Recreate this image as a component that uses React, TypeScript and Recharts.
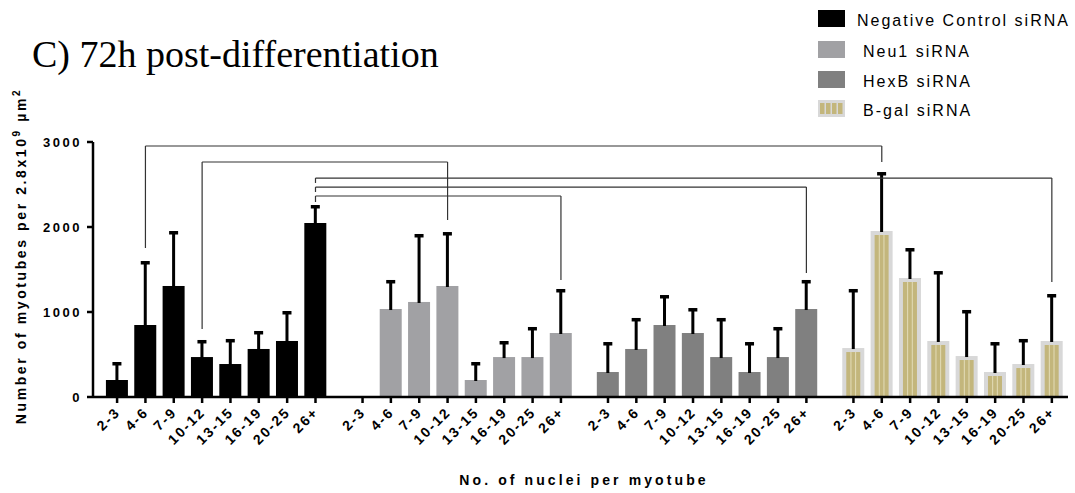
import React from 'react';
import { BarChart, Bar, XAxis, YAxis, ReferenceLine } from 'recharts';

// size bins (nuclei per myotube) and treatment groups
const sizeBins = ['2-3', '4-6', '7-9', '10-12', '13-15', '16-19', '20-25', '26+'];
const groupNames = ['Negative Control siRNA', 'Neu1 siRNA', 'HexB siRNA', 'B-gal siRNA'];

// mean myotube counts per bin
const negControlMean = [200, 847, 1306, 470, 388, 565, 659, 2047];
const neu1Mean = [0, 1035, 1118, 1306, 200, 470, 470, 753];
const hexBMean = [294, 565, 847, 753, 470, 294, 470, 1035];
const bGalMean = [576, 1953, 1400, 659, 482, 294, 388, 659];

// upper error (SD)
const negControlSd = [200, 741, 635, 189, 283, 200, 341, 200];
const neu1Sd = [0, 330, 788, 623, 200, 177, 342, 506];
const hexBSd = [341, 353, 341, 282, 448, 341, 342, 330];
const bGalSd = [683, 682, 341, 811, 530, 341, 283, 541];

const yTicks = [0, 1000, 2000, 3000];

// significance brackets: [group, bin] -> [group, bin], bar height, leg ends
const bracketFrom = [[0, 1], [0, 3], [0, 7], [0, 7], [0, 7]];
const bracketTo = [[3, 1], [1, 3], [3, 7], [2, 7], [1, 7]];
const bracketLevel = [2953, 2765, 2576, 2470, 2365];
const bracketFromEnd = [1753, 800, 2518, 2412, 2294];
const bracketToEnd = [2765, 2082, 1353, 1459, 1376];

const GROUP_STRIDE = 8.66;
const means = [negControlMean, neu1Mean, hexBMean, bGalMean];
const sds = [negControlSd, neu1Sd, hexBSd, bGalSd];
const fills = ['#000000', '#a1a1a4', '#808080', '#c3b67c'];

const pos = (g: number, b: number) => g * GROUP_STRIDE + b;

const tableData = groupNames.flatMap((_, gi) =>
    sizeBins.map((bin, bi) => ({
        pos: pos(gi, bi),
        bin,
        group: gi,
        value: means[gi][bi],
        sd: sds[gi][bi],
    }))
);

const xTicks = tableData.map(d => d.pos);
const labelAt = (v: number) => {
    const hit = tableData.find(d => Math.abs(d.pos - v) < 0.01);
    return hit ? hit.bin : '';
};

const axisFont = '"Liberation Sans", Arial, sans-serif';

const BarShape = (props: any) => {
    const { x, y, width, height, payload } = props;
    if (!payload || payload.value <= 0) return null;
    const perUnit = height / payload.value;
    const errTop = y - payload.sd * perUnit;
    const cx = x + width / 2;
    let body;
    if (payload.group === 3) {
        const inset = 4;
        const iw = width - inset * 2;
        body = (
            <g>
                <rect x={x} y={y} width={width} height={height} fill="#d8d8d8" />
                <rect x={x + inset} y={y + inset} width={iw} height={height - inset} fill={fills[3]} />
                <rect x={x + inset + iw / 3 - 0.5} y={y + inset} width={1} height={height - inset} fill="#e3dcb8" />
                <rect x={x + inset + (2 * iw) / 3 - 0.5} y={y + inset} width={1} height={height - inset} fill="#e3dcb8" />
            </g>
        );
    } else {
        body = <rect x={x} y={y} width={width} height={height} fill={fills[payload.group]} />;
    }
    return (
        <g>
            {body}
            <rect x={cx - 1.5} y={errTop} width={3} height={y - errTop + 1} fill="#000" />
            <rect x={cx - 4.5} y={errTop - 1} width={9} height={3.5} fill="#000" />
        </g>
    );
};

const XTick = (props: any) => {
    const { x, y, payload } = props;
    return (
        <g transform={`translate(${x + 4},${y + 8})`}>
            <text
                x={0}
                y={0}
                textAnchor="end"
                transform="rotate(-45)"
                fontFamily={axisFont}
                fontWeight="bold"
                fontSize={14}
                letterSpacing={2}
                fill="#000"
            >
                {labelAt(payload.value)}
            </text>
        </g>
    );
};

const Swatch = ({ i, y }: { i: number; y: number }) => {
    if (i === 3) {
        return (
            <g>
                <rect x={818} y={y} width={27} height={17} fill="#d8d8d8" />
                {[0, 1, 2, 3].map(k => (
                    <rect key={k} x={820 + k * 6} y={y + 3} width={4.5} height={11} fill={fills[3]} />
                ))}
            </g>
        );
    }
    return <rect x={818} y={y} width={27} height={17} fill={fills[i]} />;
};

const legendY = [10, 41, 71, 100];
const legendTextX = [857, 863, 863, 863];

export default function App() {
    return (
        <div style={{ position: 'absolute', left: 0, top: 0, width: 1075, height: 493, background: '#fff' }}>
            <BarChart
                width={1075}
                height={493}
                data={tableData}
                margin={{ top: 142, right: 7, bottom: 36, left: 43 }}
            >
                <XAxis
                    type="number"
                    dataKey="pos"
                    domain={[-0.85, 3 * GROUP_STRIDE + 7.57]}
                    ticks={xTicks}
                    interval={0}
                    height={60}
                    tick={<XTick />}
                    tickSize={6}
                    axisLine={{ stroke: '#000', strokeWidth: 2.5 }}
                    tickLine={{ stroke: '#000', strokeWidth: 2.5 }}
                />
                <YAxis
                    type="number"
                    domain={[0, 3000]}
                    ticks={yTicks}
                    width={50}
                    tickSize={6}
                    tickMargin={5}
                    axisLine={{ stroke: '#000', strokeWidth: 2.5 }}
                    tickLine={{ stroke: '#000', strokeWidth: 2.5 }}
                    tick={{ fill: '#000', fontFamily: axisFont, fontWeight: 'bold', fontSize: 13, letterSpacing: 2.5 }}
                />
                <Bar dataKey="value" barSize={22} shape={<BarShape />} isAnimationActive={false} />
                {bracketFrom.map((f, i) => {
                    const x1 = pos(f[0], f[1]);
                    const x2 = pos(bracketTo[i][0], bracketTo[i][1]);
                    const lv = bracketLevel[i];
                    const common = { stroke: '#333', strokeWidth: 1.2, ifOverflow: 'visible' as const };
                    return (
                        <React.Fragment key={i}>
                            <ReferenceLine segment={[{ x: x1, y: bracketFromEnd[i] }, { x: x1, y: lv }]} {...common} />
                            <ReferenceLine segment={[{ x: x1, y: lv }, { x: x2, y: lv }]} {...common} />
                            <ReferenceLine segment={[{ x: x2, y: lv }, { x: x2, y: bracketToEnd[i] }]} {...common} />
                        </React.Fragment>
                    );
                })}
            </BarChart>
            <svg
                width={1075}
                height={493}
                style={{ position: 'absolute', left: 0, top: 0, pointerEvents: 'none' }}
            >
                <text x={32} y={67} fontFamily='"Liberation Serif", "Times New Roman", serif' fontSize={38} fill="#000">
                    C) 72h post-differentiation
                </text>
                {groupNames.map((name, i) => (
                    <g key={name}>
                        <Swatch i={i} y={legendY[i]} />
                        <text
                            x={legendTextX[i]}
                            y={legendY[i] + 16}
                            fontFamily={axisFont}
                            fontSize={16}
                            letterSpacing={2}
                            fill="#000"
                        >
                            {name}
                        </text>
                    </g>
                ))}
                <text
                    transform="translate(26,256) rotate(-90)"
                    textAnchor="middle"
                    fontFamily={axisFont}
                    fontWeight="bold"
                    fontSize={14}
                    letterSpacing={2.6}
                    fill="#000"
                >
                    Number of myotubes per 2.8x10
                    <tspan dy={-6} fontSize={10}>9</tspan>
                    <tspan dy={6}> µm</tspan>
                    <tspan dy={-6} fontSize={10}>2</tspan>
                </text>
                <text
                    x={584}
                    y={485}
                    textAnchor="middle"
                    fontFamily={axisFont}
                    fontWeight="bold"
                    fontSize={14}
                    letterSpacing={3.1}
                    fill="#000"
                >
                    No. of nuclei per myotube
                </text>
            </svg>
        </div>
    );
}
